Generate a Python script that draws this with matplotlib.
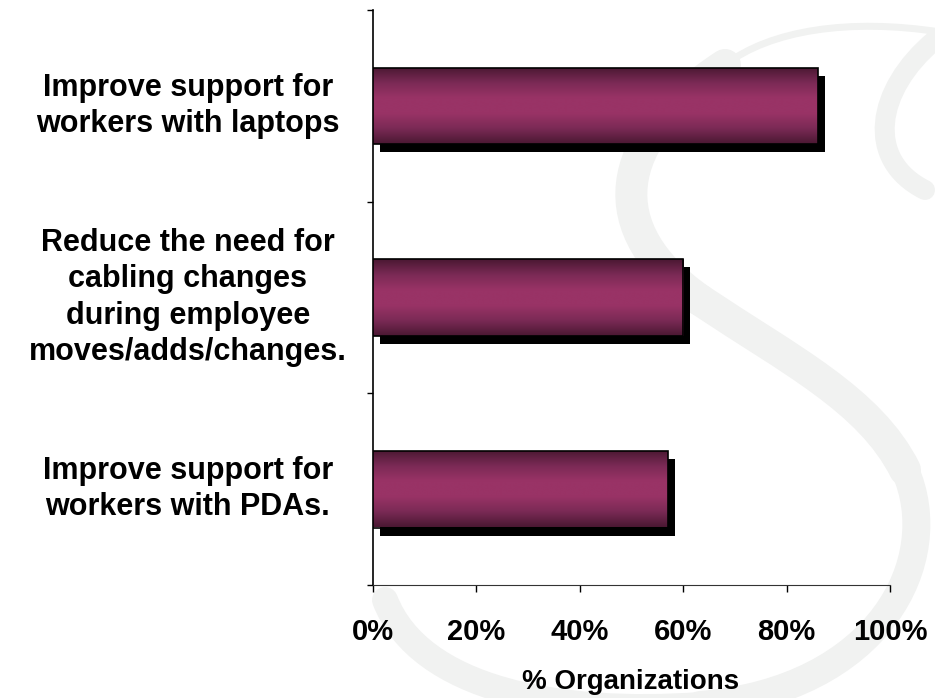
import numpy as np
import matplotlib
matplotlib.use('Agg')
import matplotlib.pyplot as plt
from matplotlib.colors import LinearSegmentedColormap
from matplotlib.path import Path
from matplotlib.patches import PathPatch
import matplotlib.transforms as mtransforms
from matplotlib.ticker import FuncFormatter

# data (top to bottom)
categories = ['Improve support for\nworkers with laptops',
              'Reduce the need for\ncabling changes\nduring employee\nmoves/adds/changes.',
              'Improve support for\nworkers with PDAs.']
values = [0.86, 0.60, 0.57]
xticks = [0, 0.2, 0.4, 0.6, 0.8, 1.0]
xlabel = '% Organizations'

plt.rcParams['font.family'] = ['Liberation Sans', 'DejaVu Sans']
plt.rcParams['font.weight'] = 'bold'

W, H = 935, 698
fig = plt.figure(figsize=(W/100, H/100), dpi=100)

# faint "S" watermark in the background (pixel coords -> figure fraction)
def px(x, y):
    return (x/W, 1 - y/H)

wm_color = '#f1f2f1'
strokes = [
    # top arc
    ([(940, 32), (850, 18), (770, 30), (725, 65)], 7),
    # right hook
    ([(935, 40), (875, 90), (865, 160), (925, 190)], 20),
    # upper bowl + spine
    ([(725, 65), (610, 140), (600, 230), (700, 300)], 32),
    ([(700, 300), (790, 360), (870, 400), (905, 470)], 32),
    # lower bowl
    ([(905, 470), (945, 560), (880, 690), (700, 705)], 28),
    ([(700, 705), (560, 715), (420, 690), (385, 600)], 26),
]
for pts, lw in strokes:
    verts = [px(*p) for p in pts]
    path = Path(verts, [Path.MOVETO, Path.CURVE4, Path.CURVE4, Path.CURVE4])
    fig.patches.append(PathPatch(path, transform=fig.transFigure, fill=False,
                                 edgecolor=wm_color, lw=lw/1.389,
                                 capstyle='round', zorder=0))

ax = fig.add_axes([373/W, 1 - 585/H, 517/W, 575/H])
ax.patch.set_alpha(0)
ax.set_zorder(2)

y = np.arange(len(categories))[::-1]
bar_h = 0.4

# shadow bars
shadow_tr = ax.transData + mtransforms.ScaledTranslation(7/100, -8/100, fig.dpi_scale_trans)
ax.barh(y, values, height=bar_h, color='black', lw=0, transform=shadow_tr, zorder=2)

# main bars with vertical gradient
bars = ax.barh(y, values, height=bar_h, color='none', edgecolor='black', lw=1.2, zorder=4)
cmap = LinearSegmentedColormap.from_list('bar', ['#4a1832', '#7a2a55', '#993366', '#993366', '#7a2a55', '#4a1832'])
grad = np.linspace(0, 1, 256).reshape(-1, 1)
for b in bars:
    x0, y0 = b.get_x(), b.get_y()
    im = ax.imshow(grad, cmap=cmap, aspect='auto', interpolation='bilinear',
                   extent=(x0, x0 + b.get_width(), y0, y0 + b.get_height()),
                   origin='lower', zorder=3)
    im.set_clip_path(b)

ax.set_xlim(0, 1)
ax.set_ylim(-0.5, len(categories) - 0.5)

ax.set_xticks(xticks)
ax.xaxis.set_major_formatter(FuncFormatter(lambda v, p: f'{v*100:.0f}%'))
ax.tick_params(axis='x', direction='out', length=5, width=1, pad=19, labelsize=21)
ax.set_yticks(np.arange(len(categories) + 1) - 0.5)
ax.set_yticklabels([])
ax.tick_params(axis='y', direction='out', length=4, width=1)
for lab in ax.get_xticklabels():
    lab.set_fontweight('bold')

for s in ['top', 'right']:
    ax.spines[s].set_visible(False)
ax.spines['left'].set_linewidth(1.2)
ax.spines['bottom'].set_color('#333333')

# category labels
for yi, txt in zip(y, categories):
    ax.text(-0.358, yi, txt, transform=ax.get_yaxis_transform(), ha='center', va='center',
            multialignment='center', fontsize=22, fontweight='bold', linespacing=1.27)

fig.text(631/W, 1 - 682/H, xlabel, ha='center', va='center', fontsize=20, fontweight='bold')

fig.savefig('out.png', dpi=100)
